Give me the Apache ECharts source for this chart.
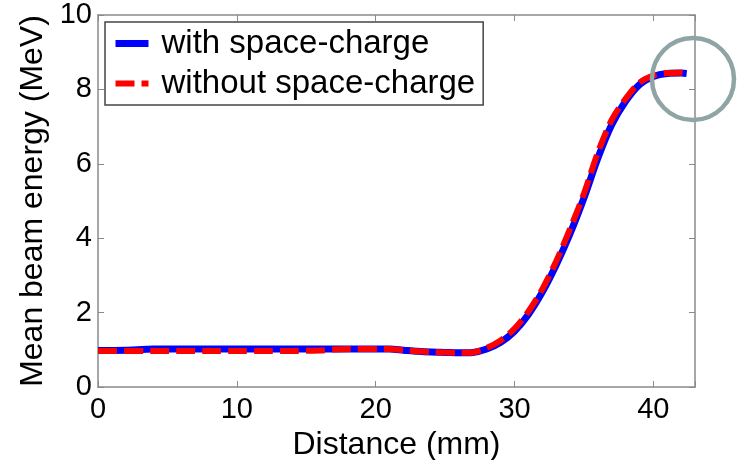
<!DOCTYPE html>
<html>
<head>
<meta charset="utf-8">
<script src="https://cdn.jsdelivr.net/npm/echarts@6/dist/echarts.min.js"></script>
<style>
  html, body { margin: 0; padding: 0; background: #fff; }
  #chart { width: 740px; height: 460px; }
</style>
</head>
<body>
<div id="chart"></div>
<script>
// Distance along the structure (mm)
const distance = [0, 2, 4, 6, 8, 10, 12, 14, 16, 17, 18, 20, 21, 22, 23, 24, 25, 26, 27, 28,
  29, 30, 31, 32, 33, 34, 35, 36, 37, 38, 39, 40, 41, 42, 42.4];
// Mean beam energy (MeV)
const withSpaceCharge = [0.98, 0.99, 1.02, 1.02, 1.02, 1.02, 1.02, 1.02, 1.02, 1.02, 1.02, 1.02, 1.02, 0.99, 0.96, 0.94, 0.93, 0.92, 0.93, 1.02,
  1.2, 1.5, 1.95, 2.55, 3.28, 4.12, 5.08, 6.15, 7.05, 7.68, 8.13, 8.35, 8.43, 8.44, 8.43];
const withoutSpaceCharge = [0.97, 0.97, 0.97, 0.97, 0.97, 0.97, 0.97, 0.97, 0.98, 1.01, 1.02, 1.02, 1.02, 0.99, 0.96, 0.94, 0.93, 0.92, 0.93, 1.05,
  1.25, 1.57, 2.03, 2.63, 3.38, 4.25, 5.2, 6.3, 7.18, 7.75, 8.18, 8.37, 8.44, 8.45, 8.43];
const xTicks = [0, 10, 20, 30, 40];
const yTicks = [0, 2, 4, 6, 8, 10];

const font = "'Liberation Sans', Arial, sans-serif";
const axisGray = '#8a8a8a';

function pairs(xs, ys) {
  return xs.map((x, i) => [x, ys[i]]);
}

const chart = echarts.init(document.getElementById('chart'), null, { renderer: 'canvas' });

// box axes: bottom/left carry labels, top/right only inward ticks
const xBase = {
  type: 'value', min: 0, max: 43, interval: 10,
  axisLine: { show: true, onZero: false, lineStyle: { color: axisGray, width: 1.5 } },
  axisTick: { show: true, inside: true, length: 6, lineStyle: { color: axisGray, width: 1 } },
  splitLine: { show: false }
};
const yBase = {
  type: 'value', min: 0, max: 10, interval: 2,
  axisLine: { show: true, onZero: false, lineStyle: { color: axisGray, width: 1.5 } },
  axisTick: { show: true, inside: true, length: 6, lineStyle: { color: axisGray, width: 1 } },
  splitLine: { show: false }
};

var option = {
  backgroundColor: '#ffffff',
  animation: false,
  grid: { left: 98, right: 45, top: 15, bottom: 73, outerBoundsMode: 'none', containLabel: false },
  legend: {
    orient: 'vertical',
    left: 105, top: 22,
    padding: [5, 8, 5, 7],
    itemGap: 7,
    itemWidth: 33, itemHeight: 14,
    borderColor: '#444', borderWidth: 1.5,
    backgroundColor: '#fff',
    itemStyle: { opacity: 0, borderWidth: 0 },
    textStyle: { fontFamily: font, fontSize: 33, color: '#000', padding: [0, 0, 0, 8] },
    data: [
      { name: 'with space-charge', lineStyle: { width: 7 } },
      { name: 'without space-charge', lineStyle: { width: 6 } }
    ]
  },
  xAxis: [
    Object.assign({}, xBase, {
      position: 'bottom',
      name: 'Distance (mm)', nameLocation: 'middle', nameGap: 33,
      nameTextStyle: { fontFamily: font, fontSize: 32, color: '#000' },
      axisLabel: {
        fontFamily: font, fontSize: 29, color: '#000', margin: 8,
        formatter: v => xTicks.includes(v) ? String(v) : ''
      }
    }),
    Object.assign({}, xBase, { position: 'top', axisLabel: { show: false } })
  ],
  yAxis: [
    Object.assign({}, yBase, {
      position: 'left',
      name: 'Mean beam energy (MeV)', nameLocation: 'middle', nameGap: 41,
      nameTextStyle: { fontFamily: font, fontSize: 32, color: '#000' },
      axisLabel: {
        fontFamily: font, fontSize: 29, color: '#000', margin: 6,
        formatter: v => yTicks.includes(v) ? String(v) : ''
      }
    }),
    Object.assign({}, yBase, { position: 'right', axisLabel: { show: false } })
  ],
  series: [
    {
      name: 'with space-charge',
      type: 'line',
      smooth: 0.3,
      symbol: 'none',
      lineStyle: { color: '#0000ff', width: 7 },
      itemStyle: { color: '#0000ff' },
      data: pairs(distance, withSpaceCharge)
    },
    {
      name: 'without space-charge',
      type: 'line',
      smooth: 0.3,
      symbol: 'none',
      lineStyle: { color: '#ff0000', width: 6, type: [19, 7] },
      itemStyle: { color: '#ff0000' },
      data: pairs(distance, withoutSpaceCharge)
    }
  ],
  graphic: [
    {
      // highlight circle around the end of the curve
      type: 'circle',
      shape: { cx: 693, cy: 79, r: 41 },
      style: { fill: 'none', stroke: '#8fa4a4', lineWidth: 4.5 },
      z: 100
    }
  ]
};

chart.setOption(option);
</script>
</body>
</html>
